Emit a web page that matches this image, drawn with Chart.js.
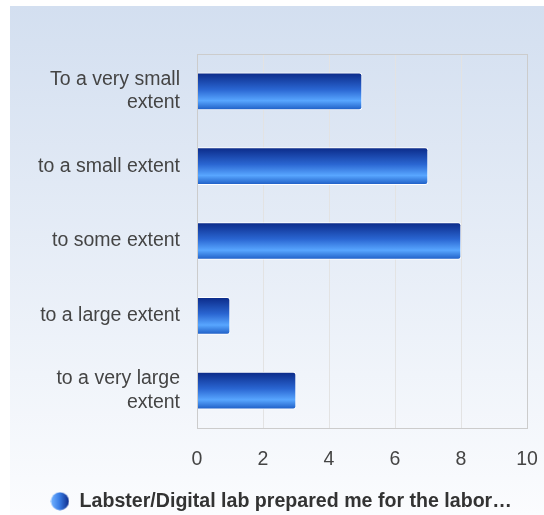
<!DOCTYPE html>
<html lang="en">
<head>
    <meta charset="UTF-8">
    <title>Labster survey</title>
    <script src="https://cdn.jsdelivr.net/npm/chart.js"></script>
    <style>
        html, body { margin: 0; padding: 0; background: #fff; }
        #wrap { width: 544px; height: 515px; }
    </style>
</head>
<body>
    <div id="wrap"><canvas id="myChart" width="544" height="515"></canvas></div>

    <script>
        // data
        const categories = [
            ['To a very small', 'extent'],
            'to a small extent',
            'to some extent',
            'to a large extent',
            ['to a very large', 'extent']
        ];
        const responses = [5, 7, 8, 1, 3];
        const seriesName = 'Labster/Digital lab prepared me for the labor\u2026';
        const xTicks = [0, 2, 4, 6, 8, 10];

        const BAR_H = 37;
        const FONT = 'Liberation Sans, Arial, sans-serif';

        // little sphere used as legend marker
        const dot = document.createElement('canvas');
        dot.width = 19; dot.height = 19;
        (function () {
            const c = dot.getContext('2d');
            const g = c.createLinearGradient(1, 0, 18, 0);
            g.addColorStop(0, '#6fb0ff');
            g.addColorStop(0.45, '#3a7ee6');
            g.addColorStop(1, '#0f2f8f');
            c.fillStyle = g;
            c.beginPath();
            c.arc(9.5, 9.5, 9, 0, Math.PI * 2);
            c.fill();
        })();

        const cardBg = {
            id: 'cardBg',
            beforeDraw(chart) {
                const c = chart.ctx;
                const g = c.createLinearGradient(0, 6, 0, chart.height);
                g.addColorStop(0, '#d3dff0');
                g.addColorStop(1, '#fbfcfe');
                c.save();
                c.fillStyle = g;
                c.fillRect(10, 6, chart.width - 10, chart.height - 6);
                c.restore();
            },
            afterDraw(chart) {
                const a = chart.chartArea;
                const c = chart.ctx;
                c.save();
                c.strokeStyle = '#cccccc';
                c.lineWidth = 1;
                c.strokeRect(Math.round(a.left) + 0.5, Math.round(a.top) + 0.5,
                    Math.round(a.right - a.left), Math.round(a.bottom - a.top));
                c.restore();
            }
        };

        function barFill(ctx) {
            const chart = ctx.chart;
            const yScale = chart.scales.y;
            if (!yScale || ctx.dataIndex === undefined) return '#2a6ad8';
            const mid = yScale.getPixelForValue(ctx.dataIndex);
            const g = chart.ctx.createLinearGradient(0, mid - BAR_H / 2, 0, mid + BAR_H / 2);
            g.addColorStop(0, '#0b2a88');
            g.addColorStop(0.45, '#2a66d2');
            g.addColorStop(0.75, '#58a6ff');
            g.addColorStop(1, '#1d5cc4');
            return g;
        }

        const ctx = document.getElementById('myChart').getContext('2d');
        new Chart(ctx, {
            type: 'bar',
            data: {
                labels: categories,
                datasets: [{
                    label: seriesName,
                    data: responses,
                    backgroundColor: barFill,
                    borderColor: '#ffffff',
                    borderWidth: 1,
                    borderRadius: { topRight: 3, bottomRight: 3 },
                    borderSkipped: 'start',
                    barThickness: BAR_H
                }]
            },
            plugins: [cardBg],
            options: {
                indexAxis: 'y',
                responsive: false,
                animation: false,
                layout: { padding: { top: 54, right: 17, bottom: -6, left: 35 } },
                plugins: {
                    tooltip: { enabled: false },
                    legend: {
                        position: 'bottom',
                        labels: {
                            usePointStyle: true,
                            pointStyle: dot,
                            color: '#333333',
                            padding: 0,
                            font: { family: FONT, size: 19.6, weight: 'bold' },
                            generateLabels(chart) {
                                const ds = chart.data.datasets[0];
                                return [{ text: ds.label, pointStyle: dot, fontColor: '#333333', datasetIndex: 0, lineWidth: 0 }];
                            }
                        }
                    }
                },
                scales: {
                    x: {
                        min: xTicks[0],
                        max: xTicks[xTicks.length - 1],
                        afterBuildTicks(scale) { scale.ticks = xTicks.map(v => ({ value: v })); },
                        afterFit(scale) { scale.paddingLeft = 0; scale.paddingRight = 0; },
                        grid: { color: '#e3e3e3', drawTicks: false },
                        border: { display: false },
                        ticks: {
                            color: '#444444',
                            padding: 20,
                            font: { family: FONT, size: 19.5 }
                        }
                    },
                    y: {
                        afterFit(scale) { scale.width = 162; },
                        grid: { display: false, drawTicks: false },
                        border: { display: false },
                        ticks: {
                            color: '#444444',
                            padding: 17,
                            font: { family: FONT, size: 19.5, lineHeight: 1.2 }
                        }
                    }
                }
            }
        });
    </script>
</body>
</html>
